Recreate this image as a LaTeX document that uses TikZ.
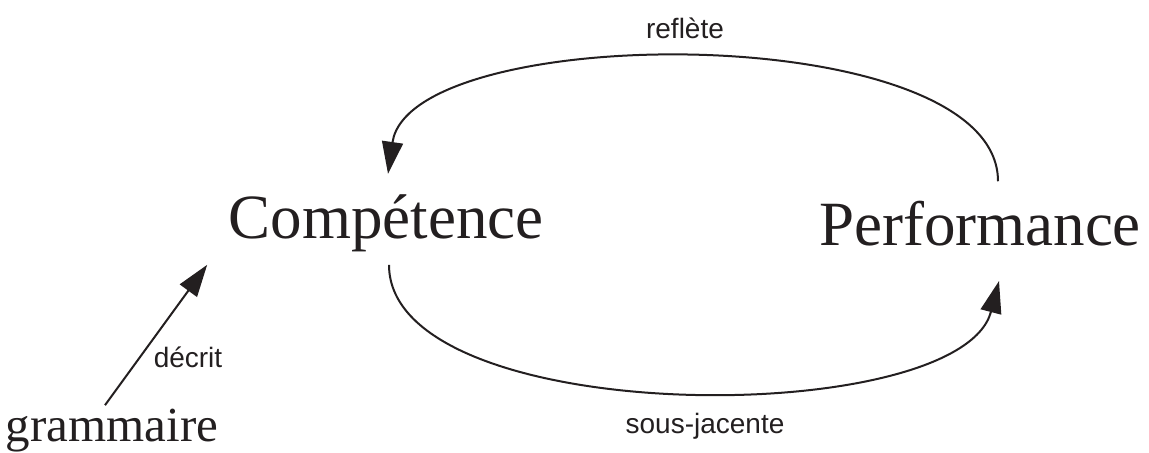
\documentclass[tikz,border=0pt]{standalone}
\usepackage{fontspec}
\setmainfont{Liberation Serif}
\newfontfamily\labelfont{Liberation Sans}
\usetikzlibrary{arrows.meta,positioning}
\definecolor{ink}{HTML}{231F20}

\begin{document}
\begin{tikzpicture}[x=0.5pt,y=-0.5pt,
	concept/.style={inner sep=0pt,anchor=base,text=ink,font=\fontsize{31.5}{36}\selectfont},
	small concept/.style={concept,font=\fontsize{24.5}{28}\selectfont},
	relation/.style={inner sep=0pt,anchor=base,text=ink,font=\labelfont\fontsize{14}{16}\selectfont},
	link/.style={draw=ink,line width=1pt,-{Triangle[length=16pt,width=10.5pt]}}]
	\useasboundingbox (0,0) rectangle (1149,452);

	% The two main concepts, and the grammar below on the left.
	\node[concept] (comp) at (386,238) {Compétence};
	\node[concept] (perf) at (980,245) {Performance};
	\node[small concept] (gram) at (112,441) {grammaire};

	% Labels of the three links
	\node[relation] (reflete) at (685,38) {reflète};
	\node[relation] (sousjac) at (705,433) {sous-jacente};
	\node[relation] (decrit) at (188,367) {décrit};

	% Performance reflects competence (over the top),
	% competence underlies performance (under the bottom).
	\draw[link] ([shift={(18,-19)}]perf.north)
		.. controls +(0,-163) and (410,20) .. ([shift={(2,-20)}]comp.north);
	\draw[link] ([shift={(3,13)}]comp.south)
		.. controls +(0,165) and (960,430) .. ([shift={(19,35)}]perf.south);
	% the grammar describes competence
	\draw[link] ([shift={(-7,-3)}]gram.north) -- ([shift={(-21,13)}]comp.south west);

\end{tikzpicture}
\end{document}
